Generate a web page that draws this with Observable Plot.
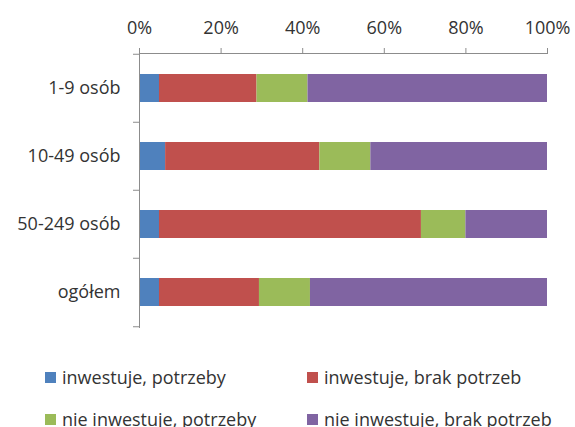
<!DOCTYPE html>
<html><head><meta charset="utf-8">
<script src="https://cdn.jsdelivr.net/npm/d3@7"></script>
<script src="https://cdn.jsdelivr.net/npm/@observablehq/plot@0.6"></script>
<style>
body{margin:0;background:#fff;font-family:"Open Sans",sans-serif;}
#wrap{position:relative;width:575px;height:427px;overflow:hidden}
#legend .item{position:absolute;display:flex;align-items:center;height:24px;font-size:18px;color:#333;white-space:nowrap;line-height:24px}
#legend .sw{width:11px;height:11px;margin-right:6px;flex:none}
</style></head><body><div id="wrap"><div id="chart"></div><div id="legend"></div></div>
<script>
const categories = ["1-9 osób","10-49 osób","50-249 osób","ogółem"];
const seriesNames = ["inwestuje, potrzeby","inwestuje, brak potrzeb","nie inwestuje, potrzeby","nie inwestuje, brak potrzeb"];
const colors = ["#4F81BD","#C0504D","#9BBB59","#8064A2"];
const invNeeds     = [4.9, 6.4, 4.9, 4.9];
const invNoNeeds   = [23.9, 37.8, 64.2, 24.5];
const noInvNeeds   = [12.5, 12.5, 10.9, 12.5];
const noInvNoNeeds = [58.7, 43.3, 20.0, 58.1];
const xTicks = [0, 0.2, 0.4, 0.6, 0.8, 1];

const seriesValues = [invNeeds, invNoNeeds, noInvNeeds, noInvNoNeeds];
const data = [];
categories.forEach((c, i) => seriesValues.forEach((vals, s) => data.push({category: c, series: seriesNames[s], value: vals[i]})));

const W = 575, H = 340, mt = 53, mb = 13, ml = 139, mr = 28;
const step = (H - mt - mb) / categories.length;
const axisColor = "#8c8c8c";
const textColor = "#333";

const chart = Plot.plot({
  width: W, height: H,
  marginTop: mt, marginBottom: mb, marginLeft: ml, marginRight: mr,
  style: {fontFamily: "'Open Sans', sans-serif", fontSize: "18px", color: textColor, background: "#fff"},
  x: {domain: [0, 1], axis: null, label: null},
  y: {domain: categories, paddingInner: 0.59, paddingOuter: 0.295, axis: null, label: null},
  color: {domain: seriesNames, range: colors},
  marks: [
    Plot.barX(data, Plot.stackX({x: "value", y: "category", fill: "series", offset: "normalize", order: seriesNames})),
    Plot.frame({anchor: "top", stroke: axisColor}),
    Plot.frame({anchor: "left", stroke: axisColor}),
    Plot.axisX({anchor: "top", ticks: xTicks, tickFormat: d3.format(".0%"), tickSize: 6, tickPadding: 14, stroke: axisColor, fill: textColor, label: null}),
    Plot.axisY({ticks: categories, tickSize: 0, tickPadding: 19, fill: textColor, label: null}),
    Plot.axisY({ticks: categories, text: null, tickSize: 6, dy: -step / 2, stroke: axisColor, label: null}),
    Plot.axisY({ticks: categories.slice(-1), text: null, tickSize: 6, dy: step / 2, stroke: axisColor, label: null})
  ]
});
document.getElementById("chart").appendChild(chart);

const legendPos = [[45, 365], [307, 365], [45, 407], [307, 407]];
const legend = document.getElementById("legend");
seriesNames.forEach((name, i) => {
  const it = document.createElement("div");
  it.className = "item";
  it.style.left = legendPos[i][0] + "px";
  it.style.top = legendPos[i][1] + "px";
  const sw = document.createElement("span");
  sw.className = "sw";
  sw.style.background = colors[i];
  const tx = document.createElement("span");
  tx.textContent = name;
  it.appendChild(sw); it.appendChild(tx);
  legend.appendChild(it);
});
</script></body></html>
